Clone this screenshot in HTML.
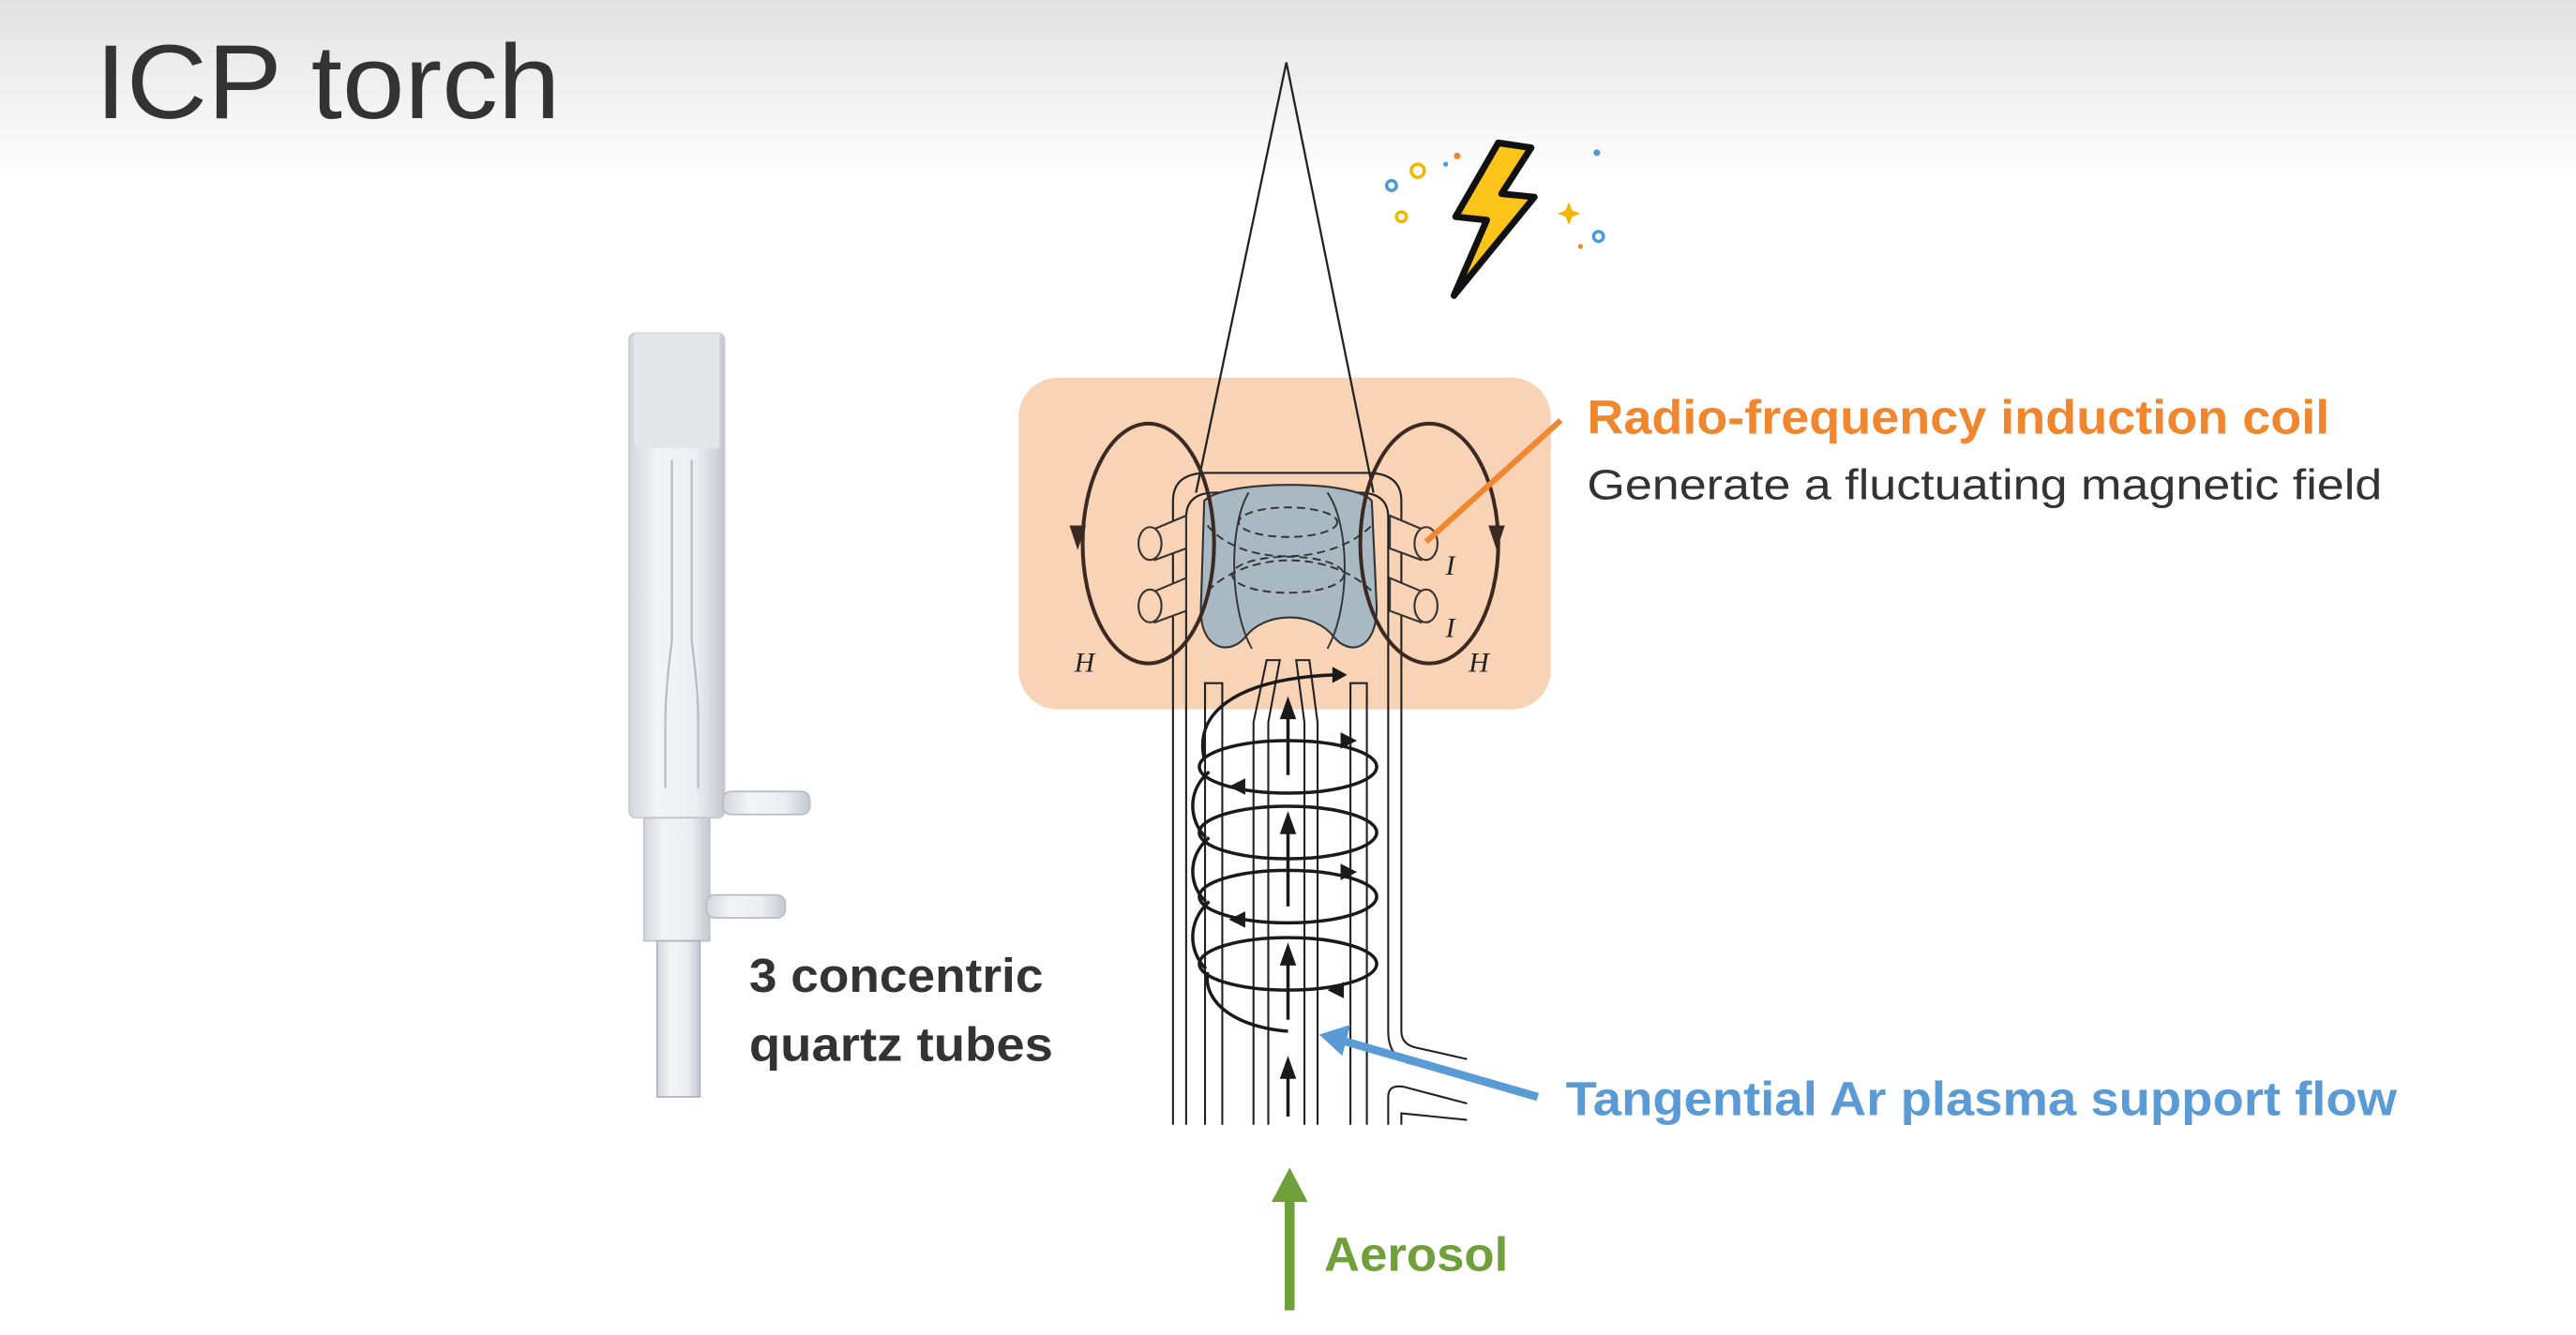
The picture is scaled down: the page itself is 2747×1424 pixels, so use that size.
<!DOCTYPE html>
<html><head><meta charset="utf-8"><style>
html,body{margin:0;padding:0;background:#fff;}
svg{display:block}
</style></head><body>
<svg width="2747" height="1424" viewBox="0 0 1568 813" preserveAspectRatio="none" xmlns="http://www.w3.org/2000/svg">
<defs>
<linearGradient id="hd" x1="0" y1="0" x2="0" y2="1">
<stop offset="0" stop-color="#e2e2e2"/><stop offset="1" stop-color="#ffffff"/>
</linearGradient>
<linearGradient id="glass" x1="0" y1="0" x2="1" y2="0">
<stop offset="0" stop-color="#d3d6dc"/><stop offset="0.3" stop-color="#f3f4f6"/><stop offset="0.7" stop-color="#eceef1"/><stop offset="1" stop-color="#c4c8cf"/>
</linearGradient>
</defs>
<rect width="1568" height="110" fill="url(#hd)"/>
<text x="58" y="72" font-family="Liberation Sans, sans-serif" font-size="64" fill="#333" textLength="283" lengthAdjust="spacingAndGlyphs">ICP torch</text>

<!-- torch photo -->
<g>
<rect x="383" y="203" width="58" height="295" rx="4" fill="url(#glass)" stroke="#c8cbd2"/>
<rect x="386" y="203" width="52" height="70" fill="#e4e6e9"/>
<path d="M409,280 V390 Q405,420 405,440 V480 M421,280 V390 Q425,420 425,440 V480" fill="none" stroke="#b5b9c2" stroke-width="1.2"/>
<rect x="392" y="498" width="40" height="75" fill="url(#glass)" stroke="#c0c4cc"/>
<rect x="400" y="573" width="26" height="95" fill="url(#glass)" stroke="#b0b4bc"/>
<rect x="440" y="482" width="53" height="14" rx="5" fill="url(#glass)" stroke="#b8bcc4"/>
<rect x="430" y="545" width="48" height="14" rx="5" fill="url(#glass)" stroke="#b8bcc4"/>
</g>
<text font-family="Liberation Sans, sans-serif" font-size="29" font-weight="bold" fill="#333"><tspan x="456" y="604" textLength="179" lengthAdjust="spacingAndGlyphs">3 concentric</tspan><tspan x="456" y="646" textLength="185" lengthAdjust="spacingAndGlyphs">quartz tubes</tspan></text>

<!-- orange box -->
<rect x="620" y="230" width="324" height="202" rx="24" fill="#f9d3b6"/>

<!-- cone -->
<path d="M728,300 L783,38 L836,300" fill="none" stroke="#222" stroke-width="1.3"/>

<!-- tubes -->
<g stroke="#222" stroke-width="1.2" fill="none">
<path d="M714,685 V305 Q714,288 735,288 H832 Q853,288 853,305 V628 Q853,636 862,638 L893,645"/>
<path d="M722,685 V315 Q722,300 740,300 H827 Q845,300 845,315 V628 Q845,645 860,648 L893,655"/>
<path d="M845,685 V668 Q845,660 855,662 L893,672 M853,685 V678 L893,682"/>
<path d="M733.5,685 V416 H744 V685 M822,685 V416 H832 V685"/>
<path d="M763,685 V440 L771,402 H779 L772,440 V685 M802,685 V440 L797,402 H789 L794,440 V685"/>
</g>

<!-- plasma and coil -->
<path d="M733,305 C745,292 825,292 835,305 L838,370 C838,395 822,400 812,388 C800,372 770,372 758,388 C748,400 730,395 731,370 Z" fill="#a9b9c4" stroke="#333" stroke-width="1.2"/>
<g fill="none" stroke="#333" stroke-width="1.1" stroke-dasharray="5,3">
<ellipse cx="784" cy="318" rx="30" ry="9"/><ellipse cx="784" cy="350" rx="34" ry="11"/>
<path d="M735,320 C755,345 810,345 835,320 M735,360 C760,335 810,335 835,360"/>
</g>
<path d="M760,300 C748,320 748,370 762,395 M808,300 C822,320 822,370 808,395" fill="none" stroke="#333" stroke-width="1.1"/>
<g fill="#f9d3b6" stroke="#333" stroke-width="1.2">
<path d="M703,322 L722,314 L722,334 L703,341 Z M703,360 L722,352 L722,372 L703,379 Z"/>
<path d="M865,322 L846,314 L846,334 L865,341 Z M865,360 L846,352 L846,372 L865,379 Z"/>
<ellipse cx="700" cy="331" rx="7" ry="10"/><ellipse cx="700" cy="369" rx="7" ry="10"/>
<ellipse cx="868" cy="331" rx="7" ry="10"/><ellipse cx="868" cy="369" rx="7" ry="10"/>
</g>
<g fill="none" stroke="#3a2a22" stroke-width="2.3">
<ellipse cx="699" cy="331" rx="40" ry="73"/>
<ellipse cx="870" cy="331" rx="42" ry="73"/>
</g>
<path d="M651,320 l5,15 l5,-15z M906,320 l5,15 l5,-15z" fill="#3a2a22"/>
<g font-family="Liberation Serif, serif" font-style="italic" font-size="17" fill="#222">
<text x="654" y="409">H</text><text x="894" y="409">H</text>
<text x="880" y="350">I</text><text x="880" y="388">I</text>
</g>

<!-- spiral -->
<g stroke="#1a1a1a" stroke-width="2" fill="none">
<path d="M733,462 C726,430 760,413 812,411"/>
<ellipse cx="784" cy="467" rx="54" ry="16"/>
<ellipse cx="784" cy="507" rx="54" ry="16"/>
<ellipse cx="784" cy="546" rx="54" ry="16"/>
<ellipse cx="784" cy="587" rx="54" ry="16"/>
<path d="M736,470 C722,482 724,500 734,510 M736,510 C722,522 724,540 734,549 M736,549 C722,562 724,580 734,590"/>
<path d="M735,592 C732,612 755,626 784,628"/>
</g>
<g fill="#1a1a1a">
<path d="M820,411 l-9,-5 l0,10z"/>
<path d="M826,451 l-10,-5 l0,10z"/>
<path d="M748,479 l10,-5 l0,10z"/>
<path d="M826,531 l-10,-5 l0,10z"/>
<path d="M748,560 l10,-5 l0,10z"/>
<path d="M808,603 l10,-5 l0,10z"/>
</g>
<g stroke="#1a1a1a" stroke-width="2">
<path d="M784,472 V436 M784,552 V505 M784,621 V585 M784,680 V652"/>
</g>
<g fill="#1a1a1a">
<path d="M784,424 l-5,14 h10z M784,494 l-5,14 h10z M784,574 l-5,14 h10z M784,643 l-5,14 h10z"/>
</g>

<!-- orange connector -->
<line x1="950" y1="256" x2="868" y2="330" stroke="#f0862e" stroke-width="3.5"/>
<text x="966" y="264" font-family="Liberation Sans, sans-serif" font-size="29" font-weight="bold" fill="#f0862e" textLength="452" lengthAdjust="spacingAndGlyphs">Radio-frequency induction coil</text>
<text x="966" y="304" font-family="Liberation Sans, sans-serif" font-size="26" fill="#333" textLength="484" lengthAdjust="spacingAndGlyphs">Generate a fluctuating magnetic field</text>

<!-- blue arrow -->
<line x1="936" y1="668" x2="818" y2="634" stroke="#5b9bd5" stroke-width="5"/>
<path d="M803,630 L822,624 L817,643 Z" fill="#5b9bd5"/>
<text x="953" y="679" font-family="Liberation Sans, sans-serif" font-size="29" font-weight="bold" fill="#5b9bd5" textLength="506" lengthAdjust="spacingAndGlyphs">Tangential Ar plasma support flow</text>

<!-- green arrow -->
<rect x="782" y="730" width="6" height="68" fill="#70a03a"/>
<path d="M774,732 L785,711 L796,732 Z" fill="#70a03a"/>
<text x="806" y="774" font-family="Liberation Sans, sans-serif" font-size="29" font-weight="bold" fill="#70a03a" textLength="112" lengthAdjust="spacingAndGlyphs">Aerosol</text>

<!-- lightning -->
<path d="M912,87 L886,132 L905,134 L885,180 L934,120 L914,118 L932,90 Z" fill="#fcc419" stroke="#111" stroke-width="4" stroke-linejoin="round"/>
<g fill="none" stroke-width="2">
<circle cx="847" cy="113" r="3" stroke="#4a9bd8"/><circle cx="853" cy="132" r="3" stroke="#f2b705"/>
<circle cx="973" cy="144" r="3" stroke="#4a9bd8"/><circle cx="863" cy="104" r="4" stroke="#f2b705"/>
</g>
<g fill="#f0862e"><circle cx="887" cy="95" r="2"/><circle cx="962" cy="150" r="1.5"/></g>
<g fill="#f2b705"><path d="M955,123 l2,5 l5,2 l-5,2 l-2,5 l-2,-5 l-5,-2 l5,-2z"/></g>
<g fill="#4a9bd8"><circle cx="972" cy="93" r="2"/><circle cx="880" cy="100" r="1.5"/></g>
</svg>
</body></html>
